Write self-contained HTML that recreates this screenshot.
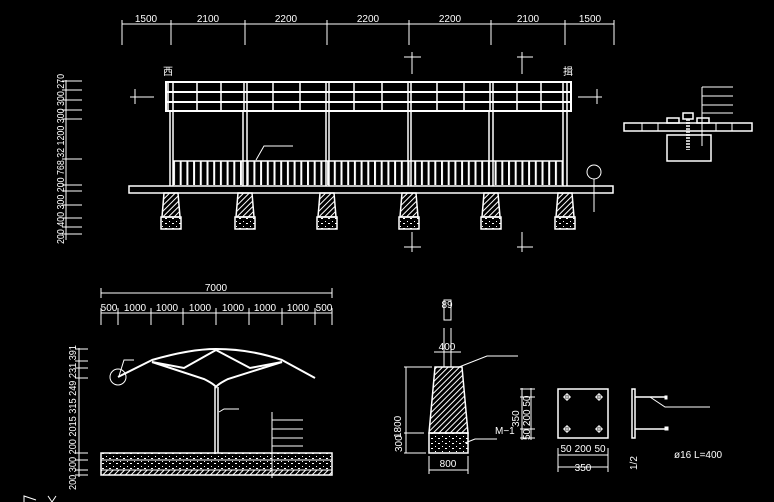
<!DOCTYPE html>
<html><head><meta charset="utf-8"><style>
html,body{margin:0;padding:0;background:#000;width:774px;height:502px;overflow:hidden}
svg{display:block}
text{fill:#fff;font-family:"Liberation Sans Narrow","Liberation Sans","Noto Sans CJK SC",sans-serif;font-size:10px}
</style></head><body>
<svg width="774" height="502" viewBox="0 0 774 502" xmlns="http://www.w3.org/2000/svg">
<defs>
<pattern id="bars" x="173" y="0" width="6.7" height="10" patternUnits="userSpaceOnUse"><rect x="0" y="0" width="2" height="10" fill="#fff"/></pattern>
<pattern id="hatch" width="4" height="4" patternUnits="userSpaceOnUse" patternTransform="rotate(45)"><rect width="1" height="4" fill="#fff"/></pattern>
<pattern id="dots" width="7" height="5" patternUnits="userSpaceOnUse"><rect x="1" y="1" width="1" height="1" fill="#fff"/><rect x="4" y="3" width="2" height="1" fill="#fff"/></pattern>
</defs>
<g stroke="#fff" fill="none" stroke-width="1">
<line x1="122" y1="24" x2="614" y2="24"/>
<g><line x1="122" y1="20" x2="122" y2="45"/><line x1="171" y1="20" x2="171" y2="45"/><line x1="245" y1="20" x2="245" y2="45"/><line x1="327" y1="20" x2="327" y2="45"/><line x1="409" y1="20" x2="409" y2="45"/><line x1="491" y1="20" x2="491" y2="45"/><line x1="565" y1="20" x2="565" y2="45"/><line x1="614" y1="20" x2="614" y2="45"/></g>
<rect x="166" y="82" width="405" height="29" stroke-width="2"/>
<line x1="166" y1="92" x2="571" y2="92" stroke-width="2"/>
<line x1="166" y1="102" x2="571" y2="102" stroke-width="2"/>
<g stroke-width="1.5">
<line x1="168" y1="82" x2="168" y2="111"/><line x1="173" y1="82" x2="173" y2="111"/><line x1="197" y1="82" x2="197" y2="111"/><line x1="221" y1="82" x2="221" y2="111"/><line x1="244" y1="82" x2="244" y2="111"/><line x1="247" y1="82" x2="247" y2="111"/><line x1="273" y1="82" x2="273" y2="111"/><line x1="300" y1="82" x2="300" y2="111"/><line x1="326" y1="82" x2="326" y2="111"/><line x1="329" y1="82" x2="329" y2="111"/><line x1="354" y1="82" x2="354" y2="111"/><line x1="382" y1="82" x2="382" y2="111"/><line x1="408" y1="82" x2="408" y2="111"/><line x1="411" y1="82" x2="411" y2="111"/><line x1="437" y1="82" x2="437" y2="111"/><line x1="464" y1="82" x2="464" y2="111"/><line x1="490" y1="82" x2="490" y2="111"/><line x1="493" y1="82" x2="493" y2="111"/><line x1="517" y1="82" x2="517" y2="111"/><line x1="541" y1="82" x2="541" y2="111"/><line x1="563" y1="82" x2="563" y2="111"/><line x1="567" y1="82" x2="567" y2="111"/>
</g>
<g stroke-width="1.5">
<line x1="170" y1="111" x2="170" y2="186"/><line x1="173" y1="111" x2="173" y2="186"/>
<line x1="243" y1="111" x2="243" y2="186"/><line x1="247" y1="111" x2="247" y2="186"/>
<line x1="326" y1="111" x2="326" y2="186"/><line x1="329" y1="111" x2="329" y2="186"/>
<line x1="408" y1="111" x2="408" y2="186"/><line x1="411" y1="111" x2="411" y2="186"/>
<line x1="489" y1="111" x2="489" y2="186"/><line x1="493" y1="111" x2="493" y2="186"/>
<line x1="563" y1="111" x2="563" y2="186"/><line x1="567" y1="111" x2="567" y2="186"/>
</g>
<line x1="173" y1="161" x2="563" y2="161" stroke-width="1.5"/>
<rect x="173" y="161" width="390" height="24" fill="url(#bars)" stroke="none"/>
<polyline points="256,160 264,146 293,146"/>
<rect x="129" y="186" width="484" height="7" stroke-width="1.5"/>
<g id="ft">
<polygon points="164,193 178,193 180,217 162,217" fill="url(#hatch)" stroke-width="1.5"/>
<rect x="161" y="217" width="20" height="12" fill="url(#dots)" stroke-width="1.5"/>
</g>
<use href="#ft" x="74"/><use href="#ft" x="156"/><use href="#ft" x="238"/><use href="#ft" x="320"/><use href="#ft" x="394"/>
<line x1="130" y1="97" x2="154" y2="97"/><line x1="135" y1="89" x2="135" y2="104"/>
<line x1="578" y1="97" x2="602" y2="97"/><line x1="597" y1="89" x2="597" y2="104"/>
<line x1="412" y1="52" x2="412" y2="74"/><line x1="404" y1="57" x2="421" y2="57"/>
<line x1="522" y1="52" x2="522" y2="74"/><line x1="517" y1="57" x2="533" y2="57"/>
<line x1="412" y1="232" x2="412" y2="252"/><line x1="404" y1="247" x2="421" y2="247"/>
<line x1="522" y1="232" x2="522" y2="252"/><line x1="517" y1="247" x2="533" y2="247"/>
<circle cx="594" cy="172" r="7"/><line x1="594" y1="179" x2="594" y2="212"/>
<line x1="66" y1="80" x2="66" y2="240"/>
<g><line x1="62" y1="81" x2="82" y2="81"/><line x1="62" y1="90" x2="82" y2="90"/><line x1="62" y1="100" x2="82" y2="100"/><line x1="62" y1="110" x2="82" y2="110"/><line x1="62" y1="119" x2="82" y2="119"/><line x1="62" y1="159" x2="82" y2="159"/><line x1="62" y1="185" x2="82" y2="185"/><line x1="62" y1="191" x2="82" y2="191"/><line x1="62" y1="205" x2="82" y2="205"/><line x1="62" y1="218" x2="82" y2="218"/><line x1="62" y1="227" x2="82" y2="227"/><line x1="62" y1="234" x2="82" y2="234"/></g>
<rect x="624" y="123" width="128" height="8" stroke-width="1.5"/>
<line x1="642" y1="123" x2="642" y2="131"/><line x1="658" y1="123" x2="658" y2="131"/><line x1="716" y1="123" x2="716" y2="131"/><line x1="732" y1="123" x2="732" y2="131"/>
<rect x="667" y="135" width="44" height="26" stroke-width="1.5"/>
<rect x="667" y="118" width="12" height="5" stroke-width="1.5"/><rect x="697" y="118" width="12" height="5" stroke-width="1.5"/>
<rect x="683" y="113" width="10" height="6" stroke-width="1.5"/>
<line x1="687" y1="119" x2="687" y2="150" stroke-width="1.5" stroke-dasharray="2,1"/><line x1="689" y1="119" x2="689" y2="150" stroke-width="1.5" stroke-dasharray="2,1"/>
<line x1="702" y1="87" x2="702" y2="146"/>
<line x1="702" y1="87" x2="733" y2="87"/><line x1="702" y1="96" x2="733" y2="96"/><line x1="702" y1="105" x2="733" y2="105"/><line x1="702" y1="113" x2="733" y2="113"/>
<line x1="101" y1="293" x2="332" y2="293"/><line x1="101" y1="288" x2="101" y2="298"/><line x1="332" y1="288" x2="332" y2="298"/>
<line x1="101" y1="313" x2="332" y2="313"/>
<g><line x1="101" y1="308" x2="101" y2="325"/><line x1="118" y1="308" x2="118" y2="325"/><line x1="151" y1="308" x2="151" y2="325"/><line x1="183" y1="308" x2="183" y2="325"/><line x1="216" y1="308" x2="216" y2="325"/><line x1="249" y1="308" x2="249" y2="325"/><line x1="282" y1="308" x2="282" y2="325"/><line x1="315" y1="308" x2="315" y2="325"/><line x1="332" y1="308" x2="332" y2="325"/></g>
<g stroke-width="2">
<path d="M118,377 L152,360 Q190,349 216,349 Q250,349 282,360 L315,378"/>
<polyline points="152,362 184,368 216,350 250,368 282,362"/>
<path d="M152,362 L204,379 Q214,384 216,387 Q218,384 228,379 L282,362"/>
</g>
<line x1="215" y1="387" x2="215" y2="453" stroke-width="1.5"/><line x1="218" y1="387" x2="218" y2="453" stroke-width="1.5"/>
<polyline points="219,412 224,409 239,409"/>
<circle cx="118" cy="377" r="8"/><polyline points="119,376 124,360 134,360"/>
<rect x="101" y="453" width="231" height="22" stroke-width="1.5"/>
<line x1="101" y1="460" x2="332" y2="460"/><line x1="101" y1="470" x2="332" y2="470"/>
<rect x="101" y="453" width="231" height="17" fill="url(#dots)" stroke="none"/>
<rect x="101" y="470" width="231" height="5" fill="url(#hatch)" stroke="none"/>
<line x1="272" y1="412" x2="272" y2="478"/>
<line x1="272" y1="420" x2="303" y2="420"/><line x1="272" y1="429" x2="303" y2="429"/><line x1="272" y1="438" x2="303" y2="438"/><line x1="272" y1="446" x2="303" y2="446"/>
<line x1="79" y1="348" x2="79" y2="477"/>
<g><line x1="75" y1="349" x2="88" y2="349"/><line x1="75" y1="361" x2="88" y2="361"/><line x1="75" y1="368" x2="88" y2="368"/><line x1="75" y1="378" x2="88" y2="378"/><line x1="75" y1="453" x2="88" y2="453"/><line x1="75" y1="460" x2="88" y2="460"/><line x1="75" y1="470" x2="88" y2="470"/><line x1="75" y1="475" x2="88" y2="475"/></g>
<polyline points="24,502 24,496 36,500"/><polyline points="48,496 52,502 56,496"/>
<rect x="444" y="300" width="7" height="20"/>
<line x1="444" y1="328" x2="444" y2="367"/><line x1="451" y1="328" x2="451" y2="367"/>
<line x1="434" y1="352" x2="461" y2="352"/>
<polygon points="435,367 462,367 468,433 429,433" fill="url(#hatch)" stroke-width="1.5"/>
<rect x="429" y="433" width="39" height="20" fill="url(#dots)" stroke-width="1.5"/>
<polyline points="459,367 487,356 518,356"/>
<polyline points="465,443 475,439 497,439"/>
<line x1="404" y1="367" x2="432" y2="367"/><line x1="404" y1="433" x2="424" y2="433"/><line x1="404" y1="453" x2="426" y2="453"/>
<line x1="406" y1="367" x2="406" y2="453"/>
<line x1="429" y1="470" x2="468" y2="470"/><line x1="429" y1="456" x2="429" y2="474"/><line x1="468" y1="456" x2="468" y2="474"/>
<rect x="558" y="389" width="50" height="49" stroke-width="1.5"/>
<g><circle cx="567" cy="397" r="2.5"/><line x1="563" y1="397" x2="571" y2="397"/><line x1="567" y1="393" x2="567" y2="401"/>
<circle cx="599" cy="397" r="2.5"/><line x1="595" y1="397" x2="603" y2="397"/><line x1="599" y1="393" x2="599" y2="401"/>
<circle cx="567" cy="429" r="2.5"/><line x1="563" y1="429" x2="571" y2="429"/><line x1="567" y1="425" x2="567" y2="433"/>
<circle cx="599" cy="429" r="2.5"/><line x1="595" y1="429" x2="603" y2="429"/><line x1="599" y1="425" x2="599" y2="433"/></g>
<line x1="520" y1="389" x2="535" y2="389"/><line x1="520" y1="397" x2="535" y2="397"/><line x1="520" y1="429" x2="535" y2="429"/><line x1="520" y1="438" x2="535" y2="438"/>
<line x1="522" y1="388" x2="522" y2="440"/><line x1="531" y1="388" x2="531" y2="440"/>
<line x1="558" y1="455" x2="608" y2="455"/><line x1="558" y1="467" x2="608" y2="467"/>
<line x1="558" y1="448" x2="558" y2="472"/><line x1="608" y1="448" x2="608" y2="472"/>
<rect x="632" y="389" width="3" height="49" stroke-width="1.5"/>
<line x1="635" y1="397" x2="666" y2="397" stroke-width="1.5"/><line x1="635" y1="429" x2="666" y2="429" stroke-width="1.5"/>
<rect x="665" y="396" width="2" height="3" fill="#fff"/><rect x="665" y="427" width="3" height="3" fill="#fff"/>
<polyline points="650,397 665,407 710,407"/>
</g>
<g text-anchor="middle" font-size="10">
<text x="146" y="22">1500</text><text x="208" y="22">2100</text><text x="286" y="22">2200</text><text x="368" y="22">2200</text><text x="450" y="22">2200</text><text x="528" y="22">2100</text><text x="590" y="22">1500</text>
<text x="216" y="291">7000</text>
<text x="109" y="311" font-size="9">500</text><text x="135" y="311">1000</text><text x="167" y="311">1000</text><text x="200" y="311">1000</text><text x="233" y="311">1000</text><text x="265" y="311">1000</text><text x="298" y="311">1000</text><text x="324" y="311" font-size="9">500</text>
<text x="447" y="308">89</text><text x="447" y="350">400</text><text x="448" y="467">800</text>
<text x="566" y="452">50</text><text x="583" y="452">200</text><text x="600" y="452">50</text><text x="583" y="471">350</text>
</g>
<text x="163" y="75" font-size="8">西</text><text x="563" y="75" font-size="8">揖</text>
<text x="495" y="434" font-size="10">M−1</text>
<text x="674" y="458" font-size="8">ø16 L=400</text>
<text transform="translate(637,470) rotate(-90)" font-size="9">1/2</text>
<g font-size="10">
<text transform="translate(64,244) rotate(-90)" textLength="170" lengthAdjust="spacingAndGlyphs">200  400  300  200  768      32  1200  300  300  270</text>
<text transform="translate(76,490) rotate(-90)" textLength="145" lengthAdjust="spacingAndGlyphs">200   300      200    2015        315   249   231  391</text>
<text transform="translate(401,438) rotate(-90)">1800</text>
<text transform="translate(402,452) rotate(-90)">300</text>
<text transform="translate(519,427) rotate(-90)">350</text>
<text transform="translate(530,440) rotate(-90)">50  200  50</text>
</g>
</svg>
</body></html>
